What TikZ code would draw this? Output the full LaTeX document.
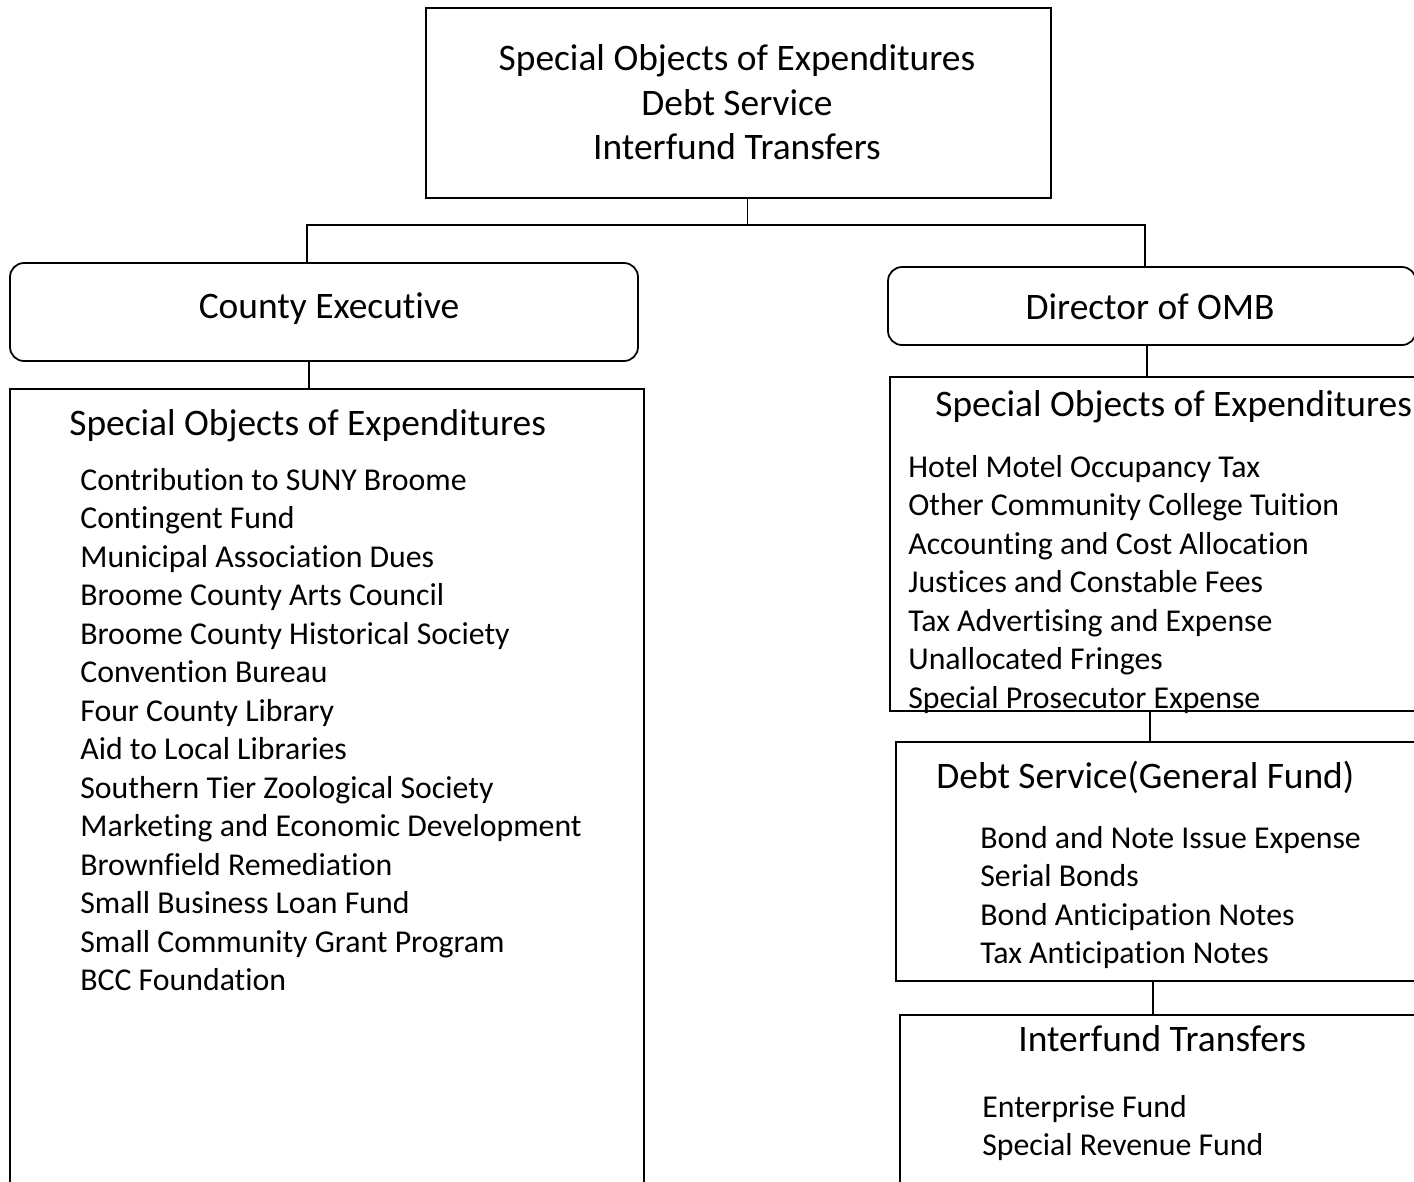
\documentclass[tikz,border=0pt]{standalone}
\usepackage{fontspec}
\setmainfont{Carlito}[Ligatures=NoCommon]
\usetikzlibrary{calc,fit}
\tikzset{
    box/.style={draw, line width=1pt, inner sep=0pt},
    roundbox/.style={box, rounded corners=8pt},
    link/.style={line width=0.7pt},
    head/.style={inner sep=0pt, font=\fontsize{21.3}{25}\selectfont},
    item/.style={inner sep=0pt, anchor=base west, font=\fontsize{18.1}{21.8}\selectfont}
}

\begin{document}
\begin{tikzpicture}[x=0.02cm, y=-0.02cm]
    \useasboundingbox (0,0) rectangle (1414,1181);
    \clip (0,0) rectangle (1414,1181);

    % boxes
    \node[box, fit={(426,8) (1051,198)}] (top) {};
    \node[roundbox, fit={(10,263) (638,361)}] (ce) {};
    \node[roundbox, fit={(888,267) (1416,345)}] (dir) {};
    \node[box, fit={(10,389) (644,1200)}] (celist) {};
    \node[box, fit={(890,377) (1430,711)}] (soe) {};
    \node[box, fit={(896,742) (1430,981)}] (debt) {};
    \node[box, fit={(900,1015) (1430,1200)}] (xfer) {};

    % top box
    \node[head, anchor=base] (top1) at (737,70) {Special Objects of Expenditures};
    \node[head, anchor=base] (top2) at (737,115) {Debt Service};
    \node[head, anchor=base] (top3) at (737,159) {Interfund Transfers};

    \node[head, anchor=base] (cename) at (329,318) {County Executive};
    \node[head, anchor=base] (dirname) at (1150,319) {Director of OMB};

    % county executive list
    \node[head, anchor=base west] (cehead) at (69,435) {Special Objects of Expenditures};
    \foreach \txt [count=\i from 0] in {Contribution to SUNY Broome, Contingent Fund,
        Municipal Association Dues, Broome County Arts Council,
        Broome County Historical Society, Convention Bureau, Four County Library,
        Aid to Local Libraries, Southern Tier Zoological Society,
        Marketing and Economic Development, Brownfield Remediation,
        Small Business Loan Fund, Small Community Grant Program, BCC Foundation}
        \node[item] (ce\i) at (80,490+38.5*\i) {\txt};

    % director lists
    \node[head, anchor=base west] (soehead) at (935,416) {Special Objects of Expenditures};
    \foreach \txt [count=\i from 0] in {Hotel Motel Occupancy Tax,
        Other Community College Tuition, Accounting and Cost Allocation,
        Justices and Constable Fees, Tax Advertising and Expense,
        Unallocated Fringes, Special Prosecutor Expense}
        \node[item] (soe\i) at (908,477+38.5*\i) {\txt};

    \node[head, anchor=base west] (debthead) at (936,788) {Debt Service(General Fund)};
    \foreach \txt [count=\i from 0] in {Bond and Note Issue Expense, Serial Bonds,
        Bond Anticipation Notes, Tax Anticipation Notes}
        \node[item] (debt\i) at (980,848+38.5*\i) {\txt};

    \node[head, anchor=base west] (xferhead) at (1018,1051) {Interfund Transfers};
    \foreach \txt [count=\i from 0] in {Enterprise Fund, Special Revenue Fund}
        \node[item] (xfer\i) at (982,1117+38.5*\i) {\txt};

    % connectors
    \coordinate (topout) at ($(top.south)+(9,0)$);
    \draw[link] (topout) -- ++(0,26) coordinate (split);
    \draw[link] ($(ce.north)+(-17,0)$) |- (split) -| ($(dir.north)+(-7,0)$);
    \coordinate (ceout) at ($(ce.south)+(-15,0)$);
    \draw[link] (ceout) -- (ceout |- celist.north);
    \coordinate (dirout) at ($(dir.south)+(-5,0)$);
    \draw[link] (dirout) -- (dirout |- soe.north);
    \coordinate (soeout) at ($(soe.south)+(-10,0)$);
    \draw[link] (soeout) -- (soeout |- debt.north);
    \coordinate (debtout) at ($(debt.south)+(-10,0)$);
    \draw[link] (debtout) -- (debtout |- xfer.north);
\end{tikzpicture}
\end{document}
